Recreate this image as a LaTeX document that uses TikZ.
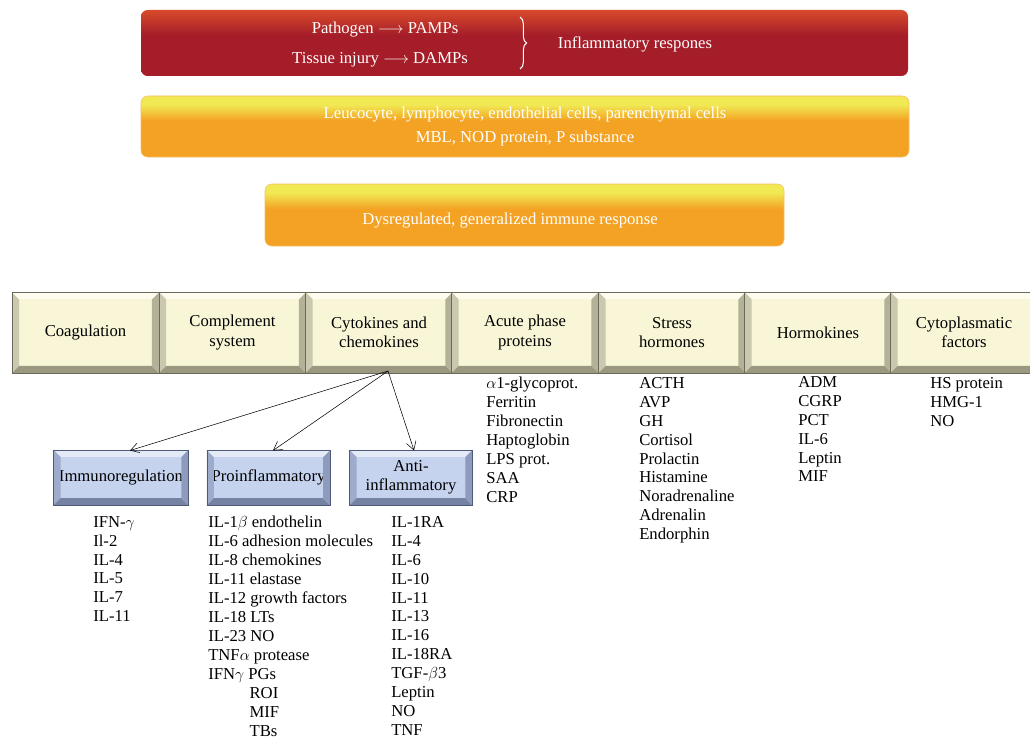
\documentclass[tikz,border=0pt]{standalone}
\usepackage{fontspec}
\setmainfont{Liberation Serif}
\usetikzlibrary{arrows.meta,decorations.pathreplacing}

\definecolor{barred}{HTML}{A51D29}
\definecolor{barredtop}{HTML}{D84A2B}
\definecolor{barorange}{HTML}{F4A224}
\definecolor{baryellow}{HTML}{F1E953}
\definecolor{cream}{HTML}{F8F6D6}
\definecolor{creamL}{HTML}{CAC8AE}
\definecolor{creamB}{HTML}{9A9880}
\definecolor{creamR}{HTML}{B3B198}
\definecolor{creamT}{HTML}{FDFCEE}
\definecolor{creamD}{HTML}{6B6A58}
\definecolor{blue}{HTML}{C6D3EE}
\definecolor{blueL}{HTML}{9DABCC}
\definecolor{blueB}{HTML}{7682A2}
\definecolor{blueR}{HTML}{8E9BBC}
\definecolor{blueT}{HTML}{E4EAF8}
\definecolor{blueD}{HTML}{4F5A78}

\pgfdeclareverticalshading{redbar}{100bp}{color(0bp)=(barred); color(25bp)=(barred); color(56bp)=(barred); color(75bp)=(barredtop); color(100bp)=(barredtop)}
\pgfdeclareverticalshading{orangebar}{100bp}{color(0bp)=(barorange); color(25bp)=(barorange); color(55bp)=(barorange); color(68bp)=(baryellow); color(100bp)=(baryellow)}

% bevelled edges round a node: name, colour prefix
\newcommand{\bevel}[2]{%
  \fill[#2L] (#1.south west) -- (#1.north west) -- ([shift={(7,7)}]#1.north west) -- ([shift={(7,-7)}]#1.south west) -- cycle;
  \fill[#2B] (#1.south west) -- ([shift={(7,-7)}]#1.south west) -- ([shift={(-7,-7)}]#1.south east) -- (#1.south east) -- cycle;
  \fill[#2R] (#1.south east) -- ([shift={(-7,-7)}]#1.south east) -- ([shift={(-7,7)}]#1.north east) -- (#1.north east) -- cycle;
  \fill[#2T] (#1.north west) -- ([shift={(7,7)}]#1.north west) -- ([shift={(-7,7)}]#1.north east) -- (#1.north east) -- cycle;
  \draw[#2D] (#1.south west) rectangle (#1.north east);
}

\begin{document}
\begin{tikzpicture}[x=0.75pt,y=-0.75pt]
\tikzstyle{bar}=[rounded corners=5pt, text=white, font=\fontsize{12.5}{18}\selectfont, align=center]
\tikzstyle{bartext}=[text=white, font=\fontsize{12.5}{14}\selectfont]
\tikzstyle{group}=[minimum width=109.5pt, minimum height=60pt, fill=cream, align=center, font=\fontsize{12.5}{14.5}\selectfont]
\tikzstyle{sub}=[minimum height=41pt, fill=blue, align=center, inner sep=1pt, font=\fontsize{12.5}{14.5}\selectfont]
\tikzstyle{items}=[anchor=north west, inner sep=0pt, align=left, font=\fontsize{12.5}{14.2}\selectfont]
    \clip (0,0) rectangle (1030,738);
    \fill[white] (0,0) rectangle (1030,738);

    % top bars
    \node[bar, shading=redbar, minimum width=575.25pt, minimum height=49.5pt] (inflbar) at (524.5,43) {};
    \node[bartext] (pathogen) at (385,30) {Pathogen $\longrightarrow$ PAMPs};
    \node[bartext] (tissue) at (380,60) {Tissue injury $\longrightarrow$ DAMPs};
    \coordinate (bracetop) at (520,17);
    \coordinate (bracebot) at (520,69);
    \draw[white, line width=0.8pt, decorate, decoration={brace, amplitude=5pt}] (bracetop) -- (bracebot);
    \node[bartext] (inflresp) at (635,44) {Inflammatory respones};

    \node[bar, shading=orangebar, draw=barorange!70!white, minimum width=576pt, minimum height=45.75pt] (cells) at (525,126.5)
        {Leucocyte, lymphocyte, endothelial cells, parenchymal cells\\MBL, NOD protein, P substance};
    \node[bar, shading=orangebar, draw=barorange!70!white, minimum width=389.25pt, minimum height=46.5pt] (dysreg) at (524.5,215) {};
    \node[bartext] (dysregtext) at (510,221) {Dysregulated, generalized immune response};

    % row of groups
    \node[group] (coag) at (85.5,332.5) {Coagulation};
    \node[group] (compl) at (232.5,332.5) {Complement\\system};
    \node[group] (cyto) at (379,332.5) {Cytokines and\\chemokines};
    \node[group] (acute) at (525,332.5) {Acute phase\\proteins};
    \node[group] (stress) at (672,332.5) {Stress\\hormones};
    \node[group] (hormo) at (818,332.5) {Hormokines};
    \node[group] (cytopl) at (964,332.5) {Cytoplasmatic\\factors};
    \foreach \g in {coag,compl,cyto,acute,stress,hormo,cytopl}
        \bevel{\g}{cream};

    % cytokine subgroups
    \node[sub, minimum width=100.5pt] (immuno) at (121,477.5) {Immunoregulation};
    \node[sub, minimum width=92pt] (proinf) at (268.5,477.5) {Proinflammatory};
    \node[sub, minimum width=91.5pt] (antiinf) at (411,477.5) {Anti-\\inflammatory};
    \foreach \g in {immuno,proinf,antiinf}
        \bevel{\g}{blue};

    \coordinate (cytosrc) at (388,371);
    \draw [-{Straight Barb[length=2.2mm,width=2.6mm]}] (cytosrc) -- (130,450.5);
    \draw [-{Straight Barb[length=2.2mm,width=2.6mm]}] (cytosrc) -- (273,450.5);
    \draw [-{Straight Barb[length=2.2mm,width=2.6mm]}] (cytosrc) -- (414,450.5);

    % lists
    \node[items] (immunoitems) at (93,516) {IFN-$\gamma$\\Il-2\\IL-4\\IL-5\\IL-7\\IL-11};
    \node[items] (proinfitems) at (208,516) {IL-1$\beta$ endothelin\\IL-6 adhesion molecules\\IL-8 chemokines\\IL-11 elastase\\IL-12 growth factors\\IL-18 LTs\\IL-23 NO\\TNF$\alpha$ protease\\IFN$\gamma$ PGs\\\hspace*{31pt}ROI\\\hspace*{31pt}MIF\\\hspace*{31pt}TBs};
    \node[items] (antiinfitems) at (391,516) {IL-1RA\\IL-4\\IL-6\\IL-10\\IL-11\\IL-13\\IL-16\\IL-18RA\\TGF-$\beta$3\\Leptin\\NO\\TNF};
    \node[items] (acuteitems) at (486,377) {$\alpha$1-glycoprot.\\Ferritin\\Fibronectin\\Haptoglobin\\LPS prot.\\SAA\\CRP};
    \node[items] (stressitems) at (639,377) {ACTH\\AVP\\GH\\Cortisol\\Prolactin\\Histamine\\Noradrenaline\\Adrenalin\\Endorphin};
    \node[items] (hormoitems) at (798,376) {ADM\\CGRP\\PCT\\IL-6\\Leptin\\MIF};
    \node[items] (cytoplitems) at (930,377) {HS protein\\HMG-1\\NO};
\end{tikzpicture}
\end{document}
